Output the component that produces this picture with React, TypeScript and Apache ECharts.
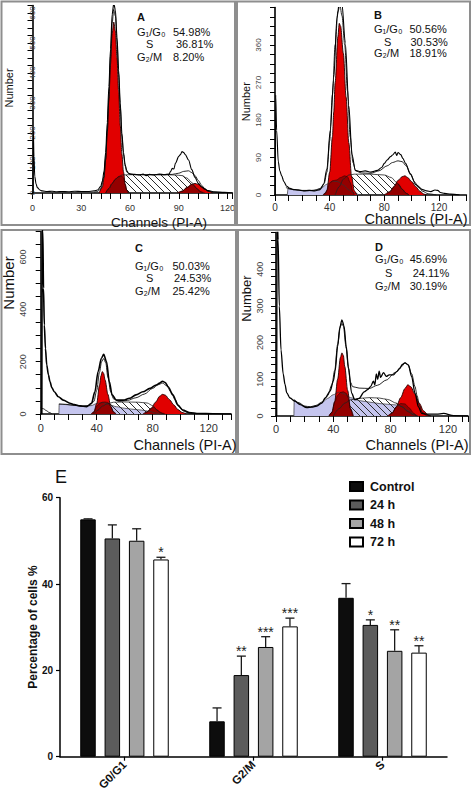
import React, { useEffect, useRef } from 'react';
import * as echarts from 'echarts';

// ---------------- Panel E (bar chart) data ----------------
const phases = ['G0/G1', 'G2/M', 'S'];
const groupNames = ['Control', '24 h', '48 h', '72 h'];
const controlPct = [54.98, 8.2, 36.81];
const h24Pct = [50.56, 18.91, 30.53];
const h48Pct = [50.03, 25.42, 24.53];
const h72Pct = [45.69, 30.19, 24.11];
const controlErrTop = [55.1, 11.3, 40.1];
const h24ErrTop = [53.7, 23.3, 31.7];
const h48ErrTop = [52.8, 27.8, 29.4];
const h72ErrTop = [46.2, 32.1, 25.7];
const controlStars = ['', '', ''];
const h24Stars = ['', '**', '*'];
const h48Stars = ['', '***', '**'];
const h72Stars = ['*', '***', '**'];
const percentTicks = [0, 20, 40, 60];

// ---------------- Histogram panels (channel, count) ----------------
const panelLetters = ['A', 'B', 'C', 'D'];

// Panel A (control)
const rawA = [[0.3,0],[0.5,208],[0.9,120],[1.4,55],[2.2,30],[3,18],[4.5,10],[6,7],[9,5],[12,6],[15,4],[18,5],[22,4],[26,6],[30,5],[34,5],[38,7],[40,10],[42,22],[43,40],[44,72],[45,135],[46,235],[47,355],[48,480],[49,595],[50,632],[51,610],[52,520],[53,410],[54,300],[55,200],[56,135],[57,95],[58,75],[59,66],[61,63],[63,62],[66,60],[68,63],[70,58],[72,62],[75,60],[78,63],[81,61],[84,63],[85,72],[86,82],[87,80],[88,100],[90,122],[91,128],[92,138],[93,135],[94,128],[96,110],[98,78],[100,52],[102,32],[104,20],[106,13],[108,8],[112,4],[118,2],[123,1]];
const fitA = [[38,3],[40,5],[42,14],[44,55],[45,115],[46,205],[47,318],[48,455],[49,565],[50,612],[51,590],[52,505],[53,395],[54,285],[55,190],[56,128],[57,90],[58,70],[60,62],[66,61],[72,61],[80,61],[86,62],[90,66],[93,72],[96,74],[98,68],[100,58],[102,42],[104,26],[106,14],[108,7],[112,2],[118,0]];
const sPhaseA = [[45,0],[47,15],[49,32],[51,46],[53,55],[55,60],[60,61],[70,61],[80,61],[88,60],[92,58],[95,50],[98,35],[101,15],[104,3],[106,0]];
const g1A = [[41,0],[43,20],[44,50],[45,110],[46,200],[47,310],[48,430],[49,530],[50,570],[51,540],[52,450],[53,340],[54,225],[55,130],[56,70],[57,30],[58,10],[59,0]];
const g2A = [[89,0],[92,6],[95,18],[98,29],[100,32],[102,29],[105,18],[108,6],[111,0]];
const darkA1 = [[45,0],[47,15],[49,32],[51,46],[53,54],[55,56],[56,50],[57,28],[58,10],[59,0]];
const darkA2 = [[90,0],[92,6],[95,18],[98,29],[100,22],[101,15],[103,5],[105,0]];

// Panel B (24 h)
const rawB = [[0.2,0],[0.5,240],[1.2,155],[2.4,80],[3.5,58],[4.9,46],[6.5,32],[8.6,21],[11,16],[13.5,13],[17,12],[21,10],[25,11],[29,10],[33,13],[35.5,25],[38,63],[40.4,155],[43,282],[45.3,425],[47.3,468],[49,458],[51.4,366],[54,214],[56.3,97],[58.8,59],[62.5,56],[66,58],[70,55],[75,59],[78,66],[80,76],[82,84],[84.5,92],[86,96],[88,103],[89,95],[90,102],[92,97],[93.5,88],[95.5,76],[99,50],[103,25],[108,13],[111,10],[114,8],[117,12],[119,11],[121,6],[124,4],[128.6,2],[135,0]];
const fitB = [[8,18],[12,14],[20,11],[28,11],[33,15],[36,28],[38,55],[40,130],[42,240],[44,360],[46,440],[47.5,455],[49,430],[51,360],[53,250],[55,140],[57,78],[59,58],[63,53],[70,52],[76,58],[82,70],[86,78],[90,82],[93,80],[96,70],[99,52],[102,32],[105,18],[108,9],[112,3],[118,0]];
const debrisB = [[9,0],[9.5,15],[13,13],[18,11],[24,10],[30,12],[34,17],[38,26],[42,33],[46,32],[50,24],[54,12],[58,4],[62,0]];
const sPhaseB = [[44,0],[47,20],[50,38],[54,48],[58,50],[70,50],[80,48],[85,42],[89,30],[93,14],[96,4],[98,0]];
const g1B = [[35,0],[37,5],[38,12],[40,55],[42,140],[43,200],[44,270],[46,380],[47,412],[48,405],[50,340],[52,235],[54,125],[56,45],[58,10],[60,0]];
const g2B = [[80,0],[84,8],[87,20],[90,35],[93,44],[95,46],[97,42],[100,32],[103,20],[106,9],[109,2],[111,0]];
const darkB1 = [[36,0],[38,10],[40,28],[42,34],[45,36],[48,42],[51,46],[53,44],[55,30],[57,8],[58,0]];
const darkB2 = [[81,0],[84,8],[87,20],[89,28],[91,24],[93,14],[96,4],[98,0]];

// Panel C (48 h)
const rawC = [[0.8,0],[1.1,760],[1.5,700],[2,480],[2.6,340],[3.4,250],[4.3,188],[5.5,150],[6.6,124],[8,100],[9.7,85],[12.6,66],[16.1,53],[20.9,41],[24,36],[28,31],[32.7,28],[36.3,41],[38.7,85],[41,162],[43.4,213],[45,228],[47,200],[49,124],[51,73],[54,53],[59,53],[63.5,60],[68,73],[73,85],[78,98],[82.5,111],[85,118],[87,125],[89,120],[91,104],[94.4,73],[98,34],[101.5,15],[106,6],[113,2],[123,1],[136,0]];
const fitC = [[0,24],[2,20],[4,13],[6,6],[8,1],[9,'-'],[13,38],[18,37],[24,33],[30,30],[35,33],[38,48],[40,90],[42,160],[43.5,200],[45,212],[46.5,195],[48,140],[50,85],[52,58],[56,48],[62,52],[68,62],[74,76],[80,98],[84,112],[87,118],[90,108],[93,85],[96,55],[99,27],[102,11],[106,3],[110,0]];
const debrisC = [[13,0],[13.2,38],[18,36],[24,33],[30,30],[36,32],[40,40],[44,44],[48,38],[54,28],[60,22],[66,18],[72,15],[78,10],[82,4],[85,0]];
const sPhaseC = [[38,0],[41,15],[44,30],[48,40],[52,45],[60,46],[70,45],[76,42],[80,32],[83,15],[86,3],[88,0]];
const g1C = [[36,0],[38,8],[40,40],[42,110],[43,145],[44,162],[45,155],[46,130],[48,75],[50,30],[52,8],[54,0]];
const g2C = [[73,0],[76,8],[79,22],[82,45],[85,68],[87,75],[89,72],[92,55],[95,35],[98,17],[101,6],[104,0]];
const darkC1 = [[37,0],[38,8],[40,30],[42,40],[44,45],[46,46],[48,44],[50,28],[52,8],[53,0]];
const darkC2 = [[74,0],[76,8],[79,22],[81,26],[83,16],[85,8],[87,3],[89,0]];

// Panel D (72 h)
const rawD = [[0.5,0],[0.8,560],[1.5,480],[2.3,300],[3.5,180],[5,115],[6.3,86],[7.5,63],[9.8,49],[13.3,40],[16.8,31],[21.5,23],[25,24],[28.5,27],[32,35],[34.3,49],[37.8,68],[40,95],[41.3,123],[43,190],[44.5,240],[46,262],[47.5,245],[49,190],[50.5,134],[52.8,62],[55,44],[58,48],[61.5,66],[64,72],[66,80],[68,95],[69,85],[70,115],[71,100],[72,122],[73,105],[75,118],[77,108],[79,112],[82,112],[84,120],[86.5,130],[88,140],[90,145],[92.4,139],[94.7,107],[97,62],[99.4,25],[101.7,7],[105,5],[112,5],[117,7],[124,1],[134,0]];
const fitD = [[12.5,44],[16,36],[20,27],[24,25],[28,29],[32,38],[36,55],[39,85],[41,125],[43,195],[45,245],[46,252],[47,245],[49,185],[50.5,130],[52,92],[53.5,80],[58,76],[65,75],[71,84],[77,98],[83,118],[88,136],[90,145],[92,140],[94.7,115],[97,80],[98.5,55],[100,30],[102,10],[105,2],[108,0]];
const debrisD = [[12.5,0],[12.7,44],[16,35],[20,25],[24,24],[28,28],[32,36],[36,48],[40,58],[44,65],[48,60],[52,50],[58,42],[65,38],[72,34],[78,32],[84,30],[88,25],[92,15],[96,5],[99,0]];
const sPhaseD = [[40,0],[44,20],[48,35],[52,44],[58,48],[65,50],[72,49],[78,45],[84,35],[88,25],[92,12],[96,3],[99,0]];
const g1D = [[37,0],[39,10],[41,40],[43,100],[45,160],[46,172],[47,165],[48,135],[50,70],[52,20],[54,0]];
const g2D = [[78,0],[81,8],[84,25],[87,50],[90,75],[92,85],[94,80],[97,60],[100,35],[103,14],[106,3],[108,0]];
const darkD1 = [[37,0],[39,10],[41,38],[43,56],[45,64],[47,66],[49,62],[50.5,48],[52,20],[53.5,0]];
const darkD2 = [[79,0],[81,8],[84,25],[87,34],[90,33],[93,22],[96,8],[98,0]];

// ---------------- styling / layout (not data) ----------------
const FF = '"Liberation Sans", Arial, Helvetica, sans-serif';
const RED = '#e10000';
const LAVENDER = '#c5c5ee';
const DARK = 'rgba(85,0,0,0.55)';
const barColors = ['#0d0d0d', '#5c5c5c', '#a4a4a4', '#ffffff'];
const BAR_W = 15.5;
const BAR_STEP = 24.3;

const histLayout = [
  { grid: { left: 32.5, top: 5.5, width: 199.9, height: 187.5 }, xMax: 123, xStep: 6, xEvery: 30, yMax: 625, yStep: 25, yEvery: 100, yLabelMax: 600, xFont: 9, yFont: 8, xMargin: 10, yMargin: -4, rawW: 1.1 },
  { grid: { left: 275, top: 7.5, width: 191.4, height: 187.5 }, xMax: 140, xStep: 10, xEvery: 40, yMax: 450, yStep: 22.5, yEvery: 90, yLabelMax: 360, xFont: 10, yFont: 8, xMargin: 7, yMargin: 13, rawW: 1.1 },
  { grid: { left: 40.7, top: 230.8, width: 190.4, height: 183.2 }, xMax: 136, xStep: 10, xEvery: 40, yMax: 700, yStep: 50, yEvery: 200, yLabelMax: 600, xFont: 11, yFont: 9, xMargin: 8, yMargin: 13, rawW: 1.6 },
  { grid: { left: 276, top: 232.5, width: 192, height: 183.5 }, xMax: 134, xStep: 10, xEvery: 40, yMax: 500, yStep: 20, yEvery: 100, yLabelMax: 400, xFont: 11, yFont: 9, xMargin: 7, yMargin: 12, rawW: 1.3 },
];

const annotLayout = [
  { letter: [137, 17], rows: [32, 44, 57], labelX: 137, sX: 146, valX: 173, sValX: 176 },
  { letter: [374, 15], rows: [29, 41.5, 53.3], labelX: 374, sX: 384, valX: 409.5, sValX: 410.5 },
  { letter: [135, 248], rows: [265.7, 277.7, 291], labelX: 135, sX: 146, valX: 172.5, sValX: 174 },
  { letter: [375, 246.7], rows: [259.3, 272.7, 286], labelX: 375, sX: 385, valX: 409.7, sValX: 412.7 },
];
const axisNameLayout = [
  { num: [8.5, 88, 11], ch: [159, 222, 13.5] },
  { num: [245.5, 101.7, 11], ch: [416, 219, 14.5] },
  { num: [8.5, 283, 15], ch: [185, 445, 14.5] },
  { num: [246, 298.5, 13], ch: [417, 445, 14.5] },
];
const frames = [
  [1.5, 1.5, 233.5, 223.5],
  [237, 1.5, 233, 223.5],
  [1.5, 230, 234.5, 224],
  [238, 230, 232, 224],
];

function makeHatch() {
  const c = document.createElement('canvas');
  c.width = 7;
  c.height = 7;
  const ctx = c.getContext('2d')!;
  ctx.clearRect(0, 0, 7, 7);
  ctx.strokeStyle = '#2b2b2b';
  ctx.lineWidth = 1;
  ctx.beginPath();
  ctx.moveTo(-1, -1);
  ctx.lineTo(8, 8);
  ctx.stroke();
  return { image: c, repeat: 'repeat', imageWidth: 7, imageHeight: 7 };
}

function txt(x: number, y: number, text: string, size: number, o: any = {}) {
  return {
    type: 'text',
    x,
    y,
    rotation: o.rot || 0,
    silent: true,
    z: 50,
    style: {
      text,
      fontSize: size,
      fontFamily: FF,
      fontWeight: o.bold ? 'bold' : 'normal',
      fill: o.color || '#111',
      textAlign: o.align || 'left',
      textVerticalAlign: 'middle',
    },
  };
}

export default function App() {
  const ref = useRef<HTMLDivElement>(null);

  useEffect(() => {
    const el = ref.current;
    if (!el) return;
    const chart = echarts.init(el, null, { renderer: 'svg' });
    const hatch = makeHatch();

    const barVals = [controlPct, h24Pct, h48Pct, h72Pct];
    const errTops = [controlErrTop, h24ErrTop, h48ErrTop, h72ErrTop];
    const starSets = [controlStars, h24Stars, h48Stars, h72Stars];

    const panels = [
      { raw: rawA, fit: fitA, debris: null as any, s: sPhaseA, g1: g1A, g2: g2A, d1: darkA1, d2: darkA2 },
      { raw: rawB, fit: fitB, debris: debrisB, s: sPhaseB, g1: g1B, g2: g2B, d1: darkB1, d2: darkB2 },
      { raw: rawC, fit: fitC, debris: debrisC, s: sPhaseC, g1: g1C, g2: g2C, d1: darkC1, d2: darkC2 },
      { raw: rawD, fit: fitD, debris: debrisD, s: sPhaseD, g1: g1D, g2: g2D, d1: darkD1, d2: darkD2 },
    ];

    const mkLine = (gi: number, data: any[], color: string, width: number, fill?: any) => {
      const s: any = {
        type: 'line',
        xAxisIndex: gi,
        yAxisIndex: gi,
        data,
        smooth: 0.3,
        smoothMonotone: 'x',
        symbol: 'none',
        showSymbol: false,
        silent: true,
        connectNulls: false,
        lineStyle: { color, width },
      };
      if (fill) s.areaStyle = { color: fill, opacity: 1 };
      return s;
    };

    const series: any[] = [];
    const grids: any[] = [];
    const xAxes: any[] = [];
    const yAxes: any[] = [];

    const fmt = (every: number, maxLab: number) => (v: number) => {
      const r = v / every;
      return Math.abs(r - Math.round(r)) < 1e-6 && v <= maxLab + 1e-6 ? String(Math.round(v)) : '';
    };

    panels.forEach((p, i) => {
      const L = histLayout[i];
      grids.push({ ...L.grid, show: false, containLabel: false, outerBoundsMode: 'none' });
      xAxes.push({
        type: 'value', gridIndex: i, min: 0, max: L.xMax, interval: L.xStep,
        axisLine: { show: true, onZero: false, lineStyle: { color: '#000', width: 1.6 } },
        axisTick: { show: true, length: 6, lineStyle: { color: '#000', width: 1 } },
        axisLabel: { formatter: fmt(L.xEvery, 120), fontSize: L.xFont, color: '#333', margin: L.xMargin, fontFamily: FF, hideOverlap: false, showMaxLabel: true, showMinLabel: true },
        splitLine: { show: false },
      });
      yAxes.push({
        type: 'value', gridIndex: i, min: 0, max: L.yMax, interval: L.yStep,
        axisLine: { show: true, onZero: false, lineStyle: { color: '#000', width: 1.6 } },
        axisTick: { show: true, length: 5, lineStyle: { color: '#000', width: 1 } },
        axisLabel: { formatter: fmt(L.yEvery, L.yLabelMax), rotate: 90, fontSize: L.yFont, color: '#444', margin: L.yMargin, fontFamily: FF, hideOverlap: false },
        splitLine: { show: false },
      });
      if (p.debris) series.push(mkLine(i, p.debris, '#333', 0.7, LAVENDER));
      series.push(mkLine(i, p.s, '#222', 0.8, hatch));
      series.push(mkLine(i, p.g1, '#200', 0.9, RED));
      series.push(mkLine(i, p.g2, '#200', 0.9, RED));
      series.push(mkLine(i, p.d1, '#300', 0.6, DARK));
      series.push(mkLine(i, p.d2, '#300', 0.6, DARK));
      series.push(mkLine(i, p.fit, '#111', 0.9));
      series.push(mkLine(i, p.raw, '#000', L.rawW));
    });

    // Bar chart grid (index 4)
    grids.push({ left: 60, top: 497.7, width: 387, height: 259, show: false, containLabel: false, outerBoundsMode: 'none' });
    xAxes.push({
      type: 'category', gridIndex: 4, data: phases, boundaryGap: true,
      axisLine: { show: true, lineStyle: { color: '#000', width: 1.5 } },
      axisTick: { show: true, alignWithLabel: true, length: 4, lineStyle: { color: '#000', width: 1.2 } },
      axisLabel: { rotate: 45, fontSize: 11.5, fontWeight: 'bold', color: '#111', margin: 6, fontFamily: FF, interval: 0 },
      splitLine: { show: false },
    });
    yAxes.push({
      type: 'value', gridIndex: 4, min: percentTicks[0], max: percentTicks[percentTicks.length - 1], interval: percentTicks[1] - percentTicks[0],
      axisLine: { show: true, onZero: false, lineStyle: { color: '#000', width: 1.5 } },
      axisTick: { show: true, length: 4, lineStyle: { color: '#000', width: 1.2 } },
      axisLabel: { fontSize: 10, fontWeight: 'bold', color: '#111', margin: 7, fontFamily: FF },
      splitLine: { show: false },
    });

    groupNames.forEach((name, gi) => {
      series.push({
        type: 'bar', name, xAxisIndex: 4, yAxisIndex: 4, data: barVals[gi],
        barWidth: BAR_W, barGap: '57%', silent: true,
        itemStyle: { color: barColors[gi], borderColor: '#000', borderWidth: 1 },
      });
    });
    groupNames.forEach((_, gi) => {
      series.push({
        type: 'custom', xAxisIndex: 4, yAxisIndex: 4, z: 5, silent: true,
        data: phases.map((__, k) => [k, barVals[gi][k], errTops[gi][k]]),
        renderItem: (params: any, api: any) => {
          const k = api.value(0);
          const v = api.value(1);
          const t = api.value(2);
          const p0 = api.coord([k, v]);
          const p1 = api.coord([k, t]);
          const x = p0[0] + (gi - 1.5) * BAR_STEP;
          const star = starSets[gi][params.dataIndex];
          const children: any[] = [
            { type: 'line', shape: { x1: x, y1: p0[1], x2: x, y2: p1[1] }, style: { stroke: '#1a1a1a', lineWidth: 1.3 } },
            { type: 'line', shape: { x1: x - 4.5, y1: p1[1], x2: x + 4.5, y2: p1[1] }, style: { stroke: '#1a1a1a', lineWidth: 1.3 } },
          ];
          if (star) {
            children.push({
              type: 'text', x, y: p1[1] - 5,
              style: { text: star, fontSize: 14, fontFamily: FF, fill: '#222', textAlign: 'center', textVerticalAlign: 'middle' },
            });
          }
          return { type: 'group', children };
        },
      });
    });

    // graphics: frames, annotations, axis names
    const graphics: any[] = [];
    frames.forEach((f) => {
      graphics.push({
        type: 'rect', silent: true, z: 1,
        shape: { x: f[0], y: f[1], width: f[2], height: f[3] },
        style: { fill: 'none', stroke: '#8e8e8e', lineWidth: 2 },
      });
    });
    panelLetters.forEach((letter, i) => {
      const A = annotLayout[i];
      const vals = barVals[i];
      graphics.push(txt(A.letter[0], A.letter[1], letter, 11, { bold: true }));
      graphics.push(txt(A.labelX, A.rows[0], 'G\u2081/G\u2080', 11));
      graphics.push(txt(A.valX, A.rows[0], vals[0].toFixed(2) + '%', 11));
      graphics.push(txt(A.sX, A.rows[1], 'S', 11));
      graphics.push(txt(A.sValX, A.rows[1], vals[2].toFixed(2) + '%', 11));
      graphics.push(txt(A.labelX, A.rows[2], 'G\u2082/M', 11));
      graphics.push(txt(A.valX, A.rows[2], vals[1].toFixed(2) + '%', 11));
      const N = axisNameLayout[i];
      graphics.push(txt(N.num[0], N.num[1], 'Number', N.num[2], { rot: Math.PI / 2, align: 'center' }));
      graphics.push(txt(N.ch[0], N.ch[1], 'Channels (PI-A)', N.ch[2], { align: 'center' }));
    });
    graphics.push(txt(55, 477, 'E', 18));
    graphics.push(txt(33, 627, 'Percentage of cells %', 12, { rot: Math.PI / 2, align: 'center', bold: true }));

    const option: any = {
      animation: false,
      backgroundColor: '#ffffff',
      textStyle: { fontFamily: FF },
      grid: grids,
      xAxis: xAxes,
      yAxis: yAxes,
      legend: {
        data: groupNames, orient: 'vertical', left: 349, top: 480, padding: 0,
        itemWidth: 13, itemHeight: 9, itemGap: 5.5, icon: 'rect', selectedMode: false,
        textStyle: { fontSize: 12.5, fontWeight: 'bold', color: '#111', fontFamily: FF, padding: [0, 0, 0, 2] },
      },
      series,
      graphic: { elements: graphics },
    };
    chart.setOption(option);
    return () => chart.dispose();
  }, []);

  return (
    <div
      ref={ref}
      style={{ position: 'absolute', left: 0, top: 0, width: 474, height: 791, background: '#fff' }}
    />
  );
}
